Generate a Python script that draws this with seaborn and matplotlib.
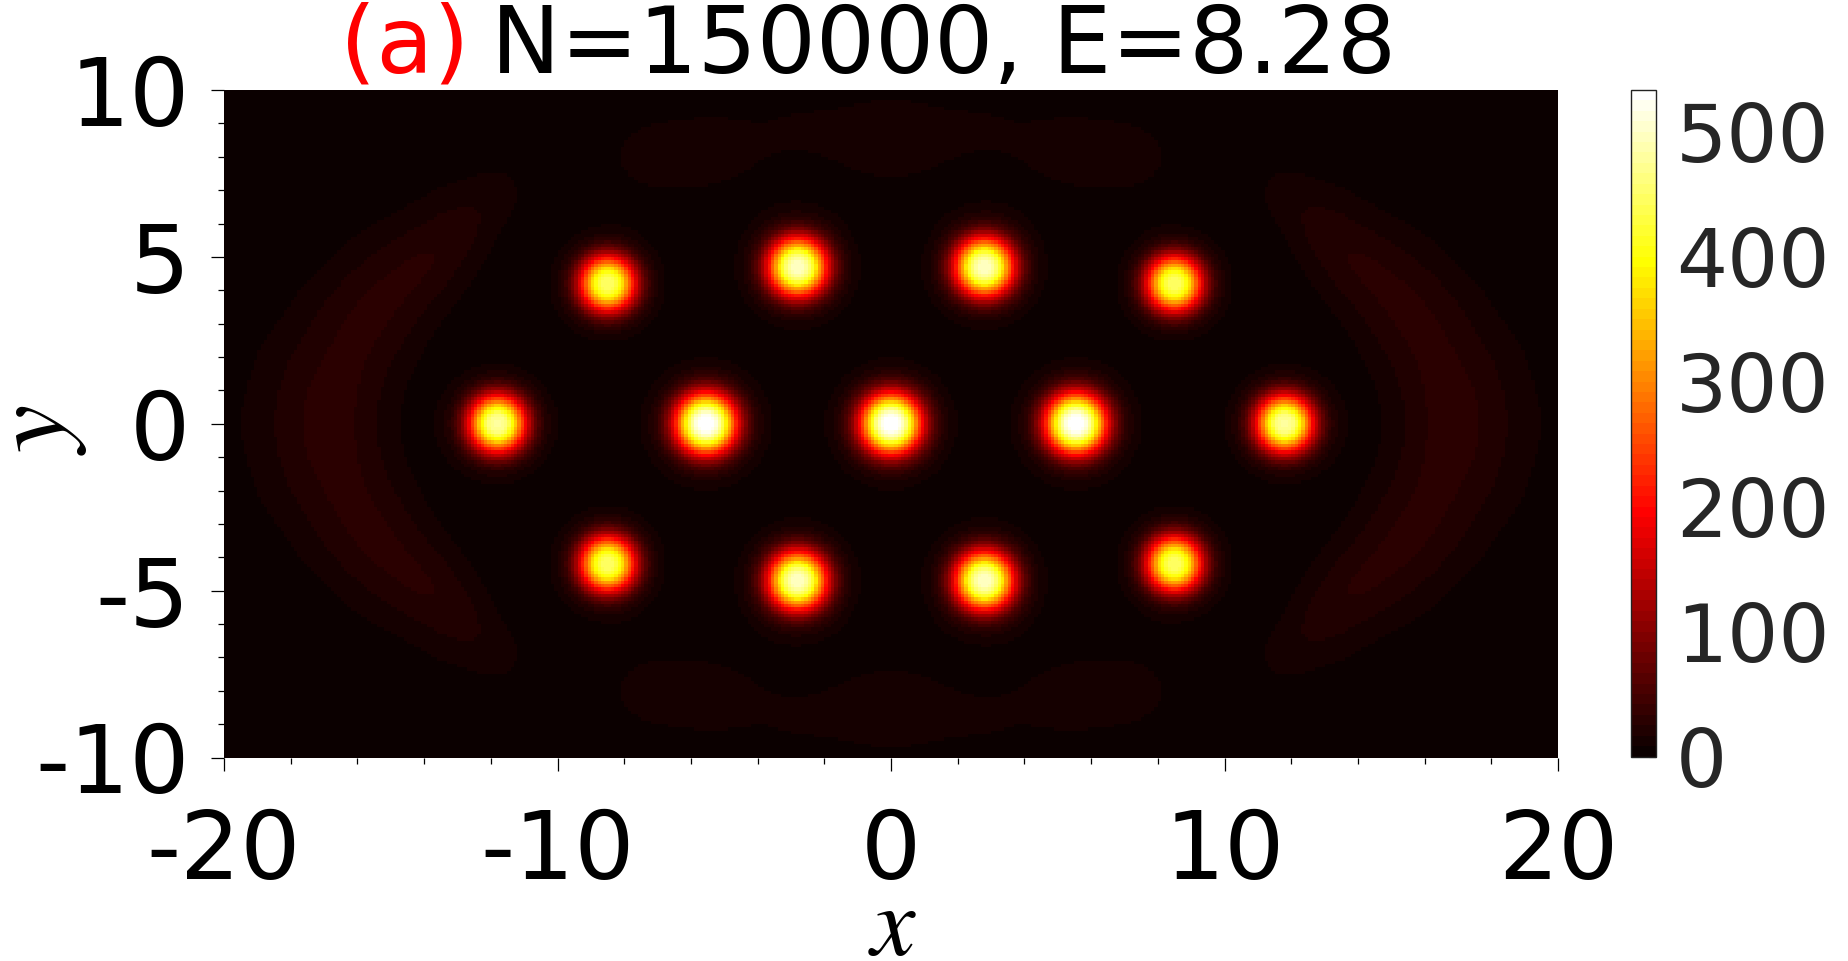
import numpy as np
import pandas as pd
import matplotlib
matplotlib.use("Agg")
import matplotlib.pyplot as plt
import seaborn as sns

# droplets
drop_x = [-11.8, -5.55, 0.0, 5.55, 11.8,
          -8.5, -2.8, 2.8, 8.5,
          -8.5, -2.8, 2.8, 8.5]
drop_y = [0.0, 0.0, 0.0, 0.0, 0.0,
          4.2, 4.7, 4.7, 4.2,
          -4.2, -4.7, -4.7, -4.2]
drop_peak = [480, 540, 540, 540, 480,
             450, 500, 500, 450,
             450, 500, 500, 450]
drop_width = [0.84, 0.9, 0.9, 0.9, 0.84,
              0.82, 0.87, 0.87, 0.82,
              0.82, 0.87, 0.87, 0.82]

# faint side crescents, one quarter (mirrored in x and y)
# first the ridge, then a weaker row on its outer side
side_x = [-17.0, -16.8, -16.3, -15.7, -14.9, -13.7, -12.7, -11.7,
          -19.2, -18.6, -17.2, -15.5, -13.5]
side_y = [0.0, 1.0, 2.0, 3.0, 4.0, 5.0, 6.0, 7.0,
          0.0, 2.0, 3.8, 5.5, 7.0]
side_peak = [9.5, 9.5, 9.5, 10.5, 13.5, 15.5, 11.0, 9.0,
             5.0, 4.5, 4.0, 4.0, 3.5]
side_width = [1.25, 1.25, 1.25, 1.2, 1.1, 0.95, 0.8, 0.7,
              1.0, 1.0, 1.1, 1.1, 1.0]

# faint top and bottom patches, one quarter
cap_x = [-7.6, -6.0, -4.5, -2.8, -1.2, 0.0]
cap_y = [8.0, 8.1, 8.3, 8.9, 8.6, 8.5]
cap_peak = [8.0, 8.0, 7.0, 5.5, 6.5, 7.5]
cap_width = [1.0, 1.1, 1.1, 0.85, 1.05, 1.15]

x_ticks = [-20, -10, 0, 10, 20]
y_ticks = [-10, -5, 0, 5, 10]
cbar_ticks = [0, 100, 200, 300, 400, 500]
vmax = 533
step = 0.1

xs = np.arange(-20 + step / 2, 20, step)
ys = np.arange(10 - step / 2, -10, -step)
gx, gy = np.meshgrid(xs, ys)
density = np.zeros_like(gx)

# droplets have a flat top and a soft tail
for cx, cy, peak, w in zip(drop_x, drop_y, drop_peak, drop_width):
    r = np.sqrt((gx - cx) ** 2 + (gy - cy) ** 2)
    density += peak * (0.83 * np.exp(-(r / w) ** 2.6) + 0.17 * np.exp(-r ** 2 / (2 * w ** 2)))

# mirror the quarter lobes, lobes on an axis only count once
for lobe_x, lobe_y, lobe_peak, lobe_w in [(side_x, side_y, side_peak, side_width),
                                          (cap_x, cap_y, cap_peak, cap_width)]:
    for cx, cy, peak, w in zip(lobe_x, lobe_y, lobe_peak, lobe_w):
        for mx in {cx, -cx}:
            for my in {cy, -cy}:
                density += peak * np.exp(-((gx - mx) ** 2 + (gy - my) ** 2) / (2 * w ** 2))

df = pd.DataFrame(density, index=ys, columns=xs)

sns.set_theme(style="ticks")
W, H = 1848, 961
fig = plt.figure(figsize=(W / 100, H / 100), dpi=100)
ax = fig.add_axes([224 / W, 1 - 757.5 / H, 1334 / W, 667.5 / H])
cax = fig.add_axes([1631 / W, 1 - 756.5 / H, 25 / W, 666.5 / H])

sns.heatmap(df, ax=ax, cbar_ax=cax, cmap=plt.get_cmap("hot", 64), vmin=0, vmax=vmax,
            xticklabels=False, yticklabels=False, rasterized=True)


def to_col(v):
    return (np.asarray(v, dtype=float) + 20) / step


def to_row(v):
    return (10 - np.asarray(v, dtype=float)) / step


ax.set_xticks(to_col(x_ticks))
ax.set_xticklabels([str(t) for t in x_ticks])
ax.set_yticks(to_row(y_ticks))
ax.set_yticklabels([str(t) for t in y_ticks], rotation=0)
ax.set_xticks(to_col(np.arange(-20, 21, 2)), minor=True)
ax.set_yticks(to_row(np.arange(-10, 11, 1)), minor=True)
ax.tick_params(which="major", length=9.5, width=0.9, color="black", labelsize=68,
               labelcolor="black", bottom=True, left=True)
ax.tick_params(axis="x", which="major", pad=26)
ax.tick_params(axis="y", which="major", pad=15)
ax.tick_params(which="minor", length=4.5, width=0.9, color="black", bottom=True, left=True)
ax.set_xlabel("")
ax.set_ylabel("")
for spine in ax.spines.values():
    spine.set_visible(False)

cb = ax.collections[0].colorbar
cb.set_ticks(cbar_ticks)
cb.set_ticklabels([str(t) for t in cbar_ticks])
cax.tick_params(which="major", length=5, width=0.8, direction="in", color="#262626",
                labelsize=58, labelcolor="#262626", pad=14.5)
cb.outline.set_visible(True)
cb.outline.set_edgecolor("#222222")
cb.outline.set_linewidth(1.0)

# two colours in the title, so two texts
fig.text(340 / W, 1 - 73 / H, "(a)", color="red", fontsize=67, ha="left", va="baseline")
fig.text(491 / W, 1 - 73 / H, "N=150000, E=8.28", color="black", fontsize=67,
         ha="left", va="baseline")

fig.text(893 / W, 1 - 927 / H, r"$x$", math_fontfamily="stix", color="black",
         fontsize=72, ha="center", va="center")
fig.text(36 / W, 1 - 430 / H, r"$y$", math_fontfamily="stix", color="black",
         fontsize=78, rotation=90, ha="center", va="center")

fig.savefig("out.png", dpi=100)
